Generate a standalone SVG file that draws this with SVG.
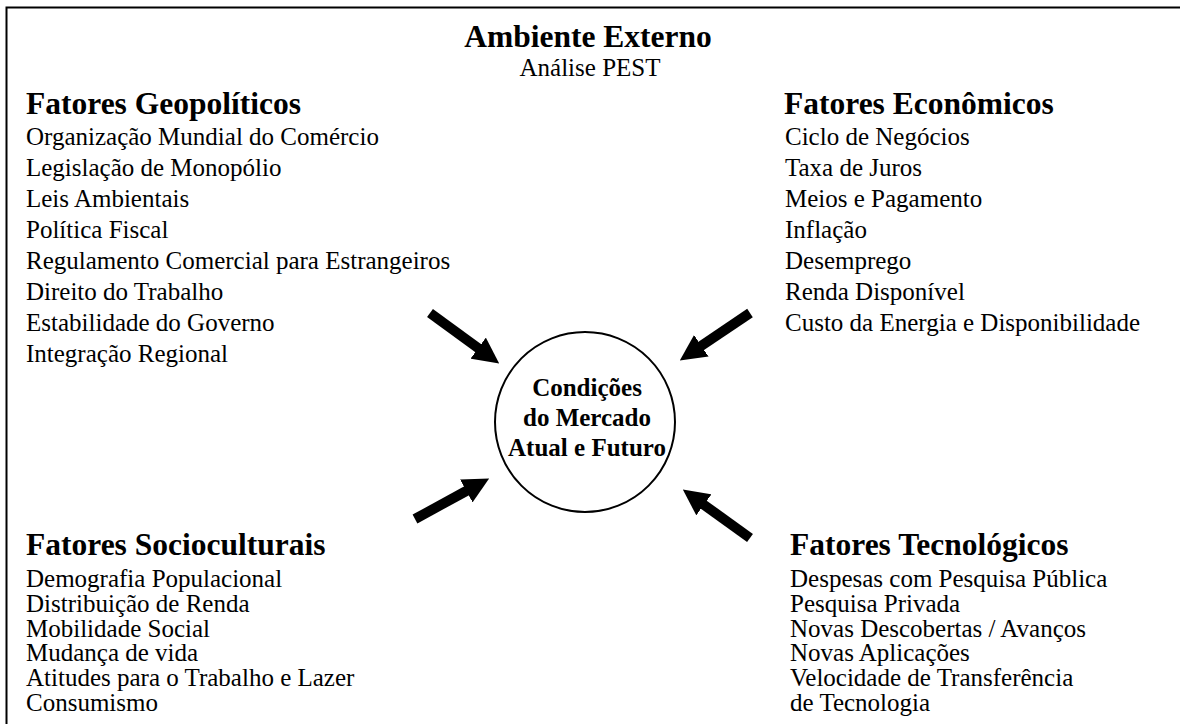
<svg xmlns="http://www.w3.org/2000/svg" width="1180" height="724" viewBox="0 0 1180 724">
<style>
.t{font-family:"Liberation Serif","Times New Roman",serif;fill:#000}
.h{font-size:31.5px;font-weight:bold}
.b{font-size:25px}
.c{font-size:25px;font-weight:bold}
.arrow{stroke:#000;stroke-width:10;fill:none;marker-end:url(#ah)}
</style>
<defs>
<marker id="ah" markerUnits="userSpaceOnUse" viewBox="0 0 26 26" markerWidth="26" markerHeight="26" refX="1" refY="13" orient="auto">
<path d="M0,0 L26,13 L0,26 z" fill="#000"/>
</marker>
</defs>
<rect x="0" y="0" width="1180" height="724" fill="#fff"/>
<path d="M6.5,724 L6.5,7.5 L1180,7.5" fill="none" stroke="#000" stroke-width="2"/>
<g id="title">
<text class="t h" x="588" y="47" text-anchor="middle">Ambiente Externo</text>
<text class="t b" x="590" y="76" text-anchor="middle">Análise PEST</text>
</g>
<g id="geopoliticos">
<text class="t h" x="26" y="114">Fatores Geopolíticos</text>
<text class="t b" x="26" y="145">Organização Mundial do Comércio</text>
<text class="t b" x="26" y="176">Legislação de Monopólio</text>
<text class="t b" x="26" y="207">Leis Ambientais</text>
<text class="t b" x="26" y="238">Política Fiscal</text>
<text class="t b" x="26" y="269">Regulamento Comercial para Estrangeiros</text>
<text class="t b" x="26" y="300">Direito do Trabalho</text>
<text class="t b" x="26" y="331">Estabilidade do Governo</text>
<text class="t b" x="26" y="362">Integração Regional</text>
</g>
<g id="economicos">
<text class="t h" x="784" y="114">Fatores Econômicos</text>
<text class="t b" x="785" y="145">Ciclo de Negócios</text>
<text class="t b" x="785" y="176">Taxa de Juros</text>
<text class="t b" x="785" y="207">Meios e Pagamento</text>
<text class="t b" x="785" y="238">Inflação</text>
<text class="t b" x="785" y="269">Desemprego</text>
<text class="t b" x="785" y="300">Renda Disponível</text>
<text class="t b" x="785" y="331">Custo da Energia e Disponibilidade</text>
</g>
<g id="socioculturais">
<text class="t h" x="26" y="555">Fatores Socioculturais</text>
<text class="t b" x="26" y="587">Demografia Populacional</text>
<text class="t b" x="26" y="611.8">Distribuição de Renda</text>
<text class="t b" x="26" y="636.6">Mobilidade Social</text>
<text class="t b" x="26" y="661.4">Mudança de vida</text>
<text class="t b" x="26" y="686.2">Atitudes para o Trabalho e Lazer</text>
<text class="t b" x="26" y="711">Consumismo</text>
</g>
<g id="tecnologicos">
<text class="t h" x="790" y="555">Fatores Tecnológicos</text>
<text class="t b" x="790" y="587">Despesas com Pesquisa Pública</text>
<text class="t b" x="790" y="611.8">Pesquisa Privada</text>
<text class="t b" x="790" y="636.6">Novas Descobertas / Avanços</text>
<text class="t b" x="790" y="661.4">Novas Aplicações</text>
<text class="t b" x="790" y="686.2">Velocidade de Transferência</text>
<text class="t b" x="790" y="711">de Tecnologia</text>
</g>
<g id="mercado">
<circle cx="585" cy="422" r="90" fill="#fff" stroke="#000" stroke-width="2"/>
<text class="t c" x="587" y="396" text-anchor="middle">Condições</text>
<text class="t c" x="587" y="426" text-anchor="middle">do Mercado</text>
<text class="t c" x="587" y="456" text-anchor="middle">Atual e Futuro</text>
</g>
<g id="connectors">
<line class="arrow" x1="430" y1="313" x2="479" y2="348.7"/>
<line class="arrow" x1="750" y1="313" x2="700.5" y2="346.4"/>
<line class="arrow" x1="415" y1="519" x2="467.2" y2="490.5"/>
<line class="arrow" x1="750" y1="538" x2="703.1" y2="504.2"/>
</g>
</svg>
